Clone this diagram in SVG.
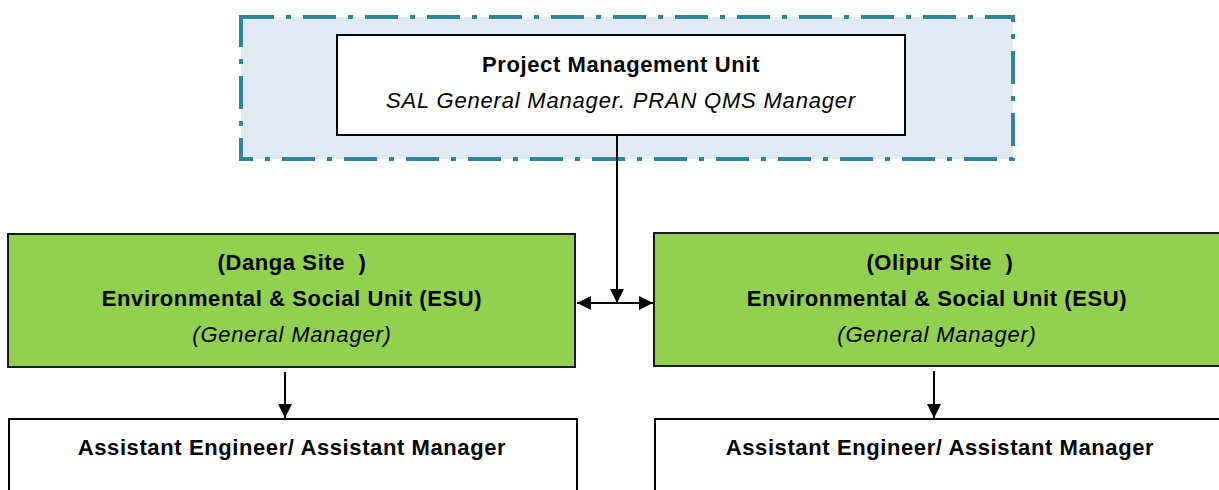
<svg xmlns="http://www.w3.org/2000/svg" width="1219" height="490" viewBox="0 0 1219 490">
  <style>
    .frame { fill: #E1E9F3; stroke: #31849B; stroke-width: 4; stroke-dasharray: 33 12 5 12; }
    .box { fill: #FFFFFF; stroke: #000000; stroke-width: 2; }
    .esu { fill: #92D050; stroke: #1A1A1A; stroke-width: 2; }
    .t { font-family: "Liberation Sans", "Open Sans", sans-serif; font-size: 22px; letter-spacing: 0.6px; fill: #000000; text-anchor: middle; }
    .b { font-weight: bold; }
    .i { font-style: italic; letter-spacing: 0.8px; }
    .link { stroke: #000000; stroke-width: 2; fill: none; }
  </style>
  <defs>
    <marker id="head" viewBox="0 0 10 10" refX="10" refY="5" markerWidth="7" markerHeight="7" orient="auto-start-reverse" markerUnits="strokeWidth">
      <path d="M0,0 L10,5 L0,10 Z" fill="#000000"/>
    </marker>
  </defs>

  <!-- project management frame -->
  <g id="pmu-frame">
    <rect class="frame" x="241" y="17" width="772" height="142"/>
  </g>

  <g id="pmu">
    <rect class="box" x="337" y="35" width="568" height="100"/>
    <text class="t b" x="621" y="72">Project Management Unit</text>
    <text class="t i" x="621" y="108">SAL General Manager. PRAN QMS Manager</text>
  </g>

  <g id="esu-danga">
    <rect class="esu" x="8" y="234" width="567" height="133"/>
    <text class="t b" x="292" y="270" xml:space="preserve">(Danga Site  )</text>
    <text class="t b" x="292" y="306">Environmental &amp; Social Unit (ESU)</text>
    <text class="t i" x="292" y="342">(General Manager)</text>
  </g>

  <g id="esu-olipur">
    <rect class="esu" x="654" y="233" width="575" height="133"/>
    <text class="t b" x="940" y="270" xml:space="preserve">(Olipur Site  )</text>
    <text class="t b" x="937" y="306">Environmental &amp; Social Unit (ESU)</text>
    <text class="t i" x="937" y="342">(General Manager)</text>
  </g>

  <g id="assistant-danga">
    <rect class="box" x="9" y="419" width="568" height="90"/>
    <text class="t b" x="292" y="455">Assistant Engineer/ Assistant Manager</text>
  </g>

  <g id="assistant-olipur">
    <rect class="box" x="655" y="419" width="575" height="90"/>
    <text class="t b" x="940" y="455">Assistant Engineer/ Assistant Manager</text>
  </g>

  <g id="connectors">
    <line class="link" x1="617" y1="135" x2="617" y2="303" marker-end="url(#head)"/>
    <line class="link" x1="577" y1="303" x2="653" y2="303" marker-start="url(#head)" marker-end="url(#head)"/>
    <line class="link" x1="285" y1="372" x2="285" y2="418" marker-end="url(#head)"/>
    <line class="link" x1="934" y1="371" x2="934" y2="418" marker-end="url(#head)"/>
  </g>
</svg>
